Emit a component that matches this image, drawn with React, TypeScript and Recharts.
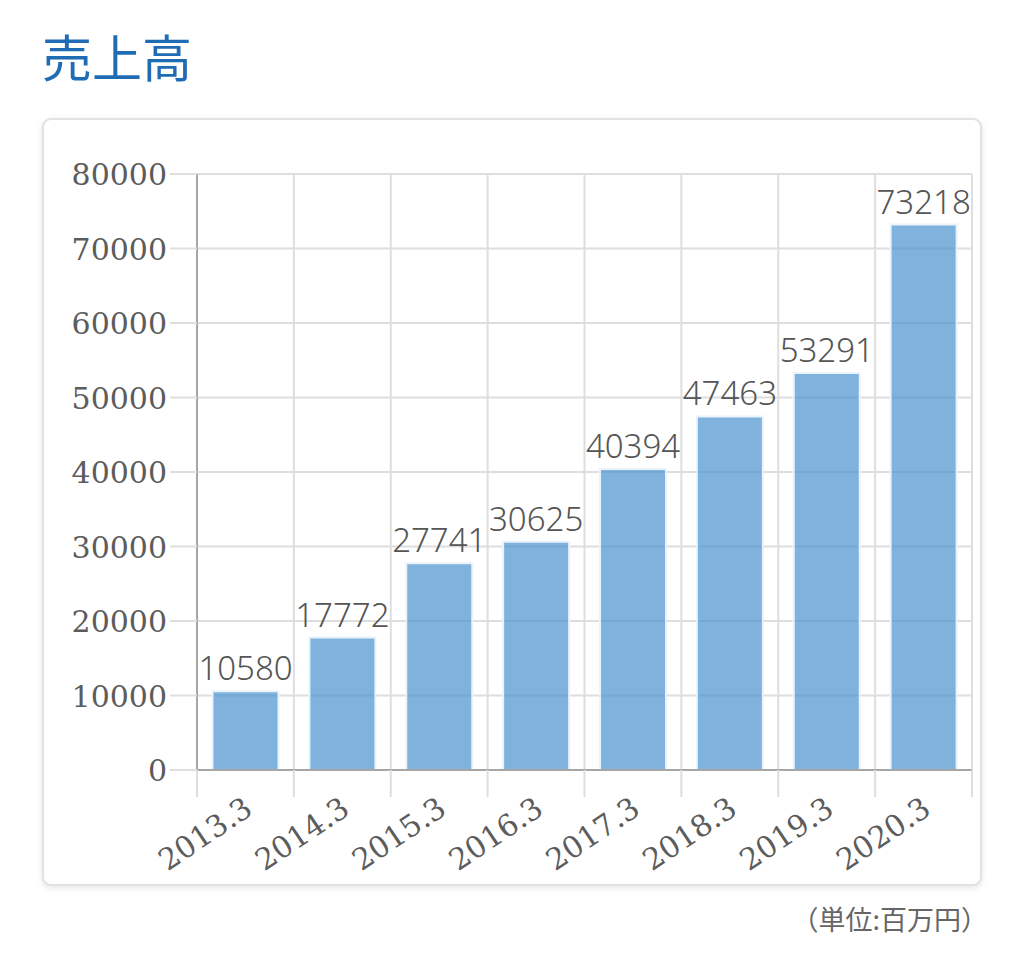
import { Bar, BarChart, CartesianGrid, LabelList, XAxis, YAxis } from 'recharts';

const periods = ['2013.3', '2014.3', '2015.3', '2016.3', '2017.3', '2018.3', '2019.3', '2020.3'];
const sales = [10580, 17772, 27741, 30625, 40394, 47463, 53291, 73218];
const yTicks = [0, 10000, 20000, 30000, 40000, 50000, 60000, 70000, 80000];

const data = periods.map((period, i) => ({ period, sales: sales[i] }));

const CHART_W = 1024;
const CHART_H = 964;
const MARGIN = { top: 174, right: 52, bottom: 0, left: 0 };
const Y_AXIS_W = 197;
const PLOT_W = CHART_W - MARGIN.left - MARGIN.right - Y_AXIS_W;
const STEP = PLOT_W / periods.length;

// Liberation Serif did not resolve in the sandbox, DejaVu Serif does
const serif = 'DejaVu Serif';
const gridColor = '#dedede';
const tickColor = '#5c5c5c';

function PeriodTick(props: any) {
  const { x, y, payload, index } = props;
  const ax = x + 9;
  const ay = y + 43;
  return (
    <g>
      <line x1={x - STEP / 2} x2={x - STEP / 2} y1={y} y2={y + 27} stroke={gridColor} strokeWidth={2} />
      {index === periods.length - 1 && (
        <line x1={x + STEP / 2} x2={x + STEP / 2} y1={y} y2={y + 27} stroke={gridColor} strokeWidth={2} />
      )}
      <text
        x={ax}
        y={ay}
        textAnchor="end"
        transform={`rotate(-34, ${ax}, ${ay})`}
        fill={tickColor}
        fontFamily={serif}
        fontSize={30}
      >
        {payload.value}
      </text>
    </g>
  );
}

function ValueTick(props: any) {
  const { x, y, payload } = props;
  return (
    <text x={x} y={y} dy={11} textAnchor="end" fill={tickColor} fontFamily={serif} fontSize={30}>
      {payload.value}
    </text>
  );
}

export default function App() {
  return (
    <div style={{ position: 'absolute', left: 0, top: 0, width: CHART_W, height: CHART_H, background: '#fff' }}>
      <div
        style={{
          position: 'absolute',
          left: 42,
          top: 30,
          fontSize: 50,
          lineHeight: '50px',
          color: '#1f6cb4',
          fontFamily: "'Noto Sans CJK JP', sans-serif",
        }}
      >
        売上高
      </div>
      <div
        style={{
          position: 'absolute',
          left: 42,
          top: 118,
          width: 936,
          height: 764,
          border: '2px solid #e2e2e2',
          borderRadius: 9,
          boxShadow: '0 2px 6px rgba(0,0,0,0.10)',
          background: '#fff',
        }}
      />
      <div style={{ position: 'absolute', left: 0, top: 0 }}>
        <BarChart width={CHART_W} height={CHART_H} data={data} margin={MARGIN} barCategoryGap="16%">
          <CartesianGrid
            stroke={gridColor}
            strokeWidth={2}
            verticalCoordinatesGenerator={({ offset }: any) =>
              periods.map((_, i) => offset.left + (i * offset.width) / periods.length).concat(offset.left + offset.width)
            }
          />
          <XAxis
            dataKey="period"
            interval={0}
            height={CHART_H - 770}
            tickSize={0}
            tickMargin={0}
            tickLine={false}
            axisLine={{ stroke: '#a6a6a6', strokeWidth: 2 }}
            tick={<PeriodTick />}
          />
          <YAxis
            width={Y_AXIS_W}
            domain={[0, 80000]}
            ticks={yTicks}
            interval={0}
            tickSize={27}
            tickMargin={3}
            tickLine={{ stroke: gridColor, strokeWidth: 2 }}
            axisLine={{ stroke: '#a6a6a6', strokeWidth: 2 }}
            tick={<ValueTick />}
          />
          <Bar
            dataKey="sales"
            fill="#4891cd"
            fillOpacity={0.7}
            stroke="#eaf3fb"
            strokeWidth={2}
            isAnimationActive={false}
          >
            <LabelList
              dataKey="sales"
              position="top"
              offset={11}
              fill="#555"
              style={{ fontFamily: "'Noto Sans', Lato, sans-serif", fontSize: 33, fontWeight: 300 }}
            />
          </Bar>
        </BarChart>
      </div>
      <div
        style={{
          position: 'absolute',
          right: 36,
          top: 903,
          fontSize: 27,
          lineHeight: '32px',
          color: '#666',
          fontFamily: "'Noto Sans CJK JP', sans-serif",
        }}
      >
        （単位:百万円）
      </div>
    </div>
  );
}
